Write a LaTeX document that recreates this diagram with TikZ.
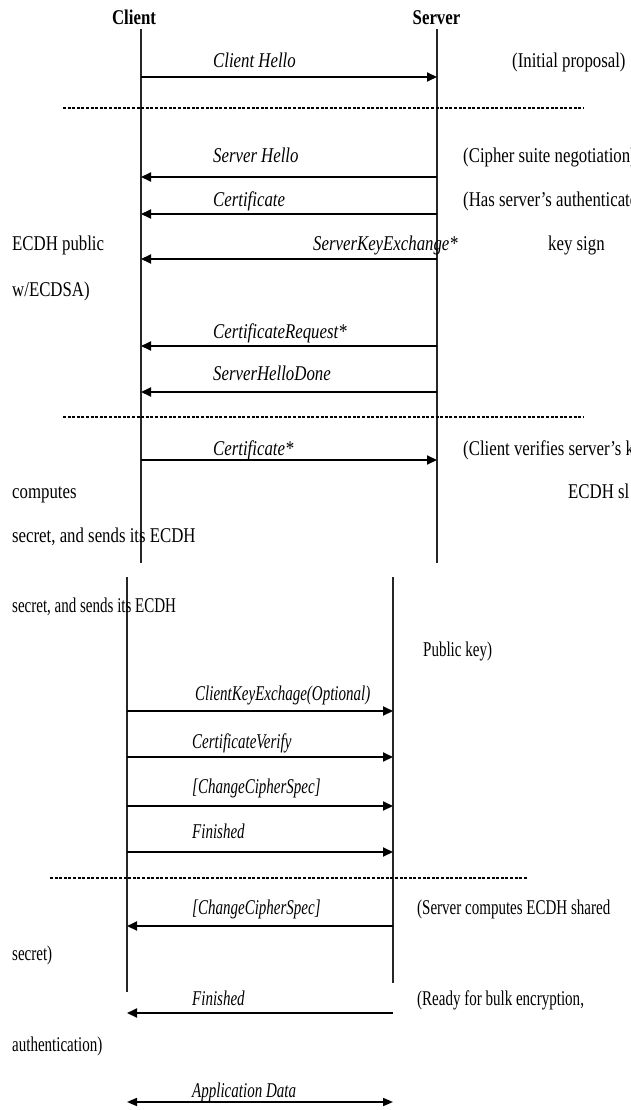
\documentclass[tikz,border=0pt]{standalone}
\usepackage{fontspec}
\setmainfont{Liberation Serif}
\newfontfamily\upperfont[FakeStretch=0.80]{Liberation Serif}
\newfontfamily\lowerfont[FakeStretch=0.715]{Liberation Serif}
\usetikzlibrary{arrows.meta}

\tikzset{
  life/.style={line width=1.1pt, black!85},
  msg/.style={line width=2pt, -{Triangle[length=10pt,width=9pt]}},
  both/.style={line width=1.6pt, {Triangle[length=10pt,width=8pt]}-{Triangle[length=10pt,width=8pt]}},
  sep/.style={line width=1.1pt, dash pattern=on 3pt off 1.6pt},
  txt/.style={anchor=base west, inner sep=0pt, font=\upperfont\fontsize{21}{24}\selectfont},
  msgtxt/.style={txt, font=\upperfont\itshape\fontsize{21}{24}\selectfont},
  ltxt/.style={anchor=base west, inner sep=0pt, font=\lowerfont\fontsize{21}{24}\selectfont},
  lmsgtxt/.style={ltxt, font=\lowerfont\itshape\fontsize{21}{24}\selectfont},
  head/.style={anchor=base, inner sep=0pt, font=\upperfont\bfseries\fontsize{21}{24}\selectfont}
}

\begin{document}
\begin{tikzpicture}[x=1pt, y=-1pt]
\useasboundingbox (0,0) rectangle (630,1110);
\clip (0,0) rectangle (630,1110);

% ---------- first part ----------
\node[head] (client) at (134,25) {Client};
\node[head] (server) at (436.5,25) {Server};

\coordinate (ctop) at (141,29);
\coordinate (cend) at (141,563);
\coordinate (stop) at (437,29);
\coordinate (send) at (437,563);
\draw[life] (ctop) -- (cend);
\draw[life] (stop) -- (send);

% Client Hello
\node[msgtxt] (m1) at (213,68) {Client Hello};
\node[txt] (n1) at (512,68) {(Initial proposal)};
\coordinate (c1) at (141,77); \coordinate (s1) at (437,77);
\draw[msg] (c1) -- (s1);

\coordinate (d1a) at (63,108); \coordinate (d1b) at (584,108);
\draw[sep] (d1a) -- (d1b);

% Server Hello
\node[msgtxt] (m2) at (213,163) {Server Hello};
\node[txt] (n2) at (463,163) {(Cipher suite negotiation)};
\coordinate (c2) at (141,177); \coordinate (s2) at (437,177);
\draw[msg] (s2) -- (c2);

% Certificate
\node[msgtxt] (m3) at (213,206) {Certificate};
\node[txt] (n3) at (463,206) {(Has server’s authenticate};
\coordinate (c3) at (141,214); \coordinate (s3) at (437,214);
\draw[msg] (s3) -- (c3);

% ServerKeyExchange
\node[txt] (n4a) at (12,250) {ECDH public};
\node[msgtxt] (m4) at (313,250) {ServerKeyExchange*};
\node[txt] (n4b) at (548,250) {key sign};
\coordinate (c4) at (141,259); \coordinate (s4) at (437,259);
\draw[msg] (s4) -- (c4);
\node[txt] (n4c) at (12,296) {w/ECDSA)};

% CertificateRequest
\node[msgtxt] (m5) at (213,338) {CertificateRequest*};
\coordinate (c5) at (141,346); \coordinate (s5) at (437,346);
\draw[msg] (s5) -- (c5);

% ServerHelloDone
\node[msgtxt] (m6) at (213,380) {ServerHelloDone};
\coordinate (c6) at (141,392); \coordinate (s6) at (437,392);
\draw[msg] (s6) -- (c6);

\coordinate (d2a) at (63,417); \coordinate (d2b) at (584,417);
\draw[sep] (d2a) -- (d2b);

% Client certificate
\node[msgtxt] (m7) at (213,455) {Certificate*};
\node[txt] (n7) at (463,455) {(Client verifies server’s k};
\coordinate (c7) at (141,460); \coordinate (s7) at (437,460);
\draw[msg] (c7) -- (s7);

\node[txt] (n7a) at (12,498) {computes};
\node[txt] (n7b) at (568,498) {ECDH sl};
\node[txt] (n7c) at (12,542) {secret, and sends its ECDH};

% ---------- second part ----------
\coordinate (ctop2) at (127,577);
\coordinate (cend2) at (127,992);
\coordinate (stop2) at (393,577);
\coordinate (send2) at (393,983);
\draw[life] (ctop2) -- (cend2);
\draw[life] (stop2) -- (send2);

\node[ltxt] (p1) at (12,612) {secret, and sends its ECDH};
\node[ltxt] (p2) at (423,656) {Public key)};

% ClientKeyExchange
\node[lmsgtxt] (k1) at (195,700) {ClientKeyExchage(Optional)};
\coordinate (c8) at (127,711); \coordinate (s8) at (393,711);
\draw[msg] (c8) -- (s8);

% CertificateVerify
\node[lmsgtxt] (k2) at (192,748) {CertificateVerify};
\coordinate (c9) at (127,757); \coordinate (s9) at (393,757);
\draw[msg] (c9) -- (s9);

% ChangeCipherSpec
\node[lmsgtxt] (k3) at (192,793) {[ChangeCipherSpec]};
\coordinate (c10) at (127,806); \coordinate (s10) at (393,806);
\draw[msg] (c10) -- (s10);

% Finished
\node[lmsgtxt] (k4) at (192,838) {Finished};
\coordinate (c11) at (127,852); \coordinate (s11) at (393,852);
\draw[msg] (c11) -- (s11);

\coordinate (d3a) at (50,878); \coordinate (d3b) at (528,878);
\draw[sep] (d3a) -- (d3b);

% Server ChangeCipherSpec
\node[lmsgtxt] (k5) at (192,914) {[ChangeCipherSpec]};
\node[ltxt] (q5) at (417,914) {(Server computes ECDH shared};
\coordinate (c12) at (127,926); \coordinate (s12) at (393,926);
\draw[msg] (s12) -- (c12);
\node[ltxt] (q5b) at (12,960) {secret)};

% Server Finished
\node[lmsgtxt] (k6) at (192,1005) {Finished};
\node[ltxt] (q6) at (417,1005) {(Ready for bulk encryption,};
\coordinate (c13) at (127,1013); \coordinate (s13) at (393,1013);
\draw[msg] (s13) -- (c13);
\node[ltxt] (q6b) at (12,1051) {authentication)};

% Application Data
\node[lmsgtxt] (k7) at (192,1097) {Application Data};
\coordinate (c14) at (127,1102); \coordinate (s14) at (393,1102);
\draw[both] (c14) -- (s14);
\end{tikzpicture}
\end{document}
